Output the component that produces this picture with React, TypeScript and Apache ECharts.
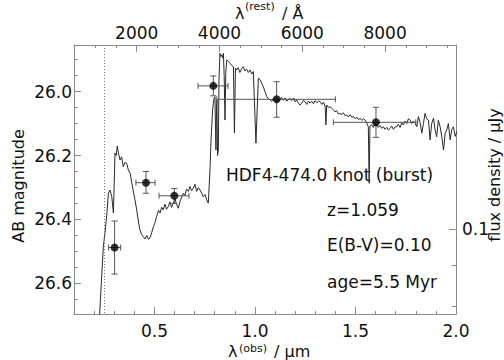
import React, { useEffect, useRef } from "react";
import * as echarts from "echarts";

// ---- data ----
const redshift = 1.059;
const lymanAlphaObs = 0.254; // µm, dotted line

// broad-band photometry (λ obs in µm, AB mag)
const pointLambda = [0.302, 0.458, 0.599, 0.793, 1.108, 1.602];
const pointMag = [26.488, 26.285, 26.326, 25.982, 26.024, 26.096];
const lambdaLo = [0.272, 0.408, 0.523, 0.717, 0.81, 1.39];
const lambdaHi = [0.332, 0.503, 0.672, 0.866, 1.4, 1.8];
const magLo = [26.405, 26.25, 26.303, 25.951, 25.969, 26.049];
const magHi = [26.571, 26.318, 26.35, 26.013, 26.08, 26.143];

// model spectrum
const specLambda = [
  0.222, 0.234, 0.246, 0.254, 0.263, 0.271, 0.279, 0.288, 0.296, 0.304,
  0.31, 0.315, 0.322, 0.329, 0.337, 0.345, 0.353, 0.362, 0.37, 0.379,
  0.394, 0.403, 0.412, 0.42, 0.428, 0.437, 0.445, 0.453, 0.462, 0.47,
  0.478, 0.487, 0.495, 0.503, 0.511, 0.52, 0.528, 0.536, 0.544, 0.552,
  0.56, 0.569, 0.577, 0.585, 0.594, 0.602, 0.61, 0.619, 0.627, 0.636,
  0.644, 0.652, 0.66, 0.669, 0.677, 0.685, 0.694, 0.702, 0.71, 0.719,
  0.727, 0.735, 0.743, 0.752, 0.76, 0.768, 0.772, 0.777, 0.781, 0.785,
  0.789, 0.793, 0.797, 0.801, 0.804, 0.806, 0.809, 0.811, 0.814, 0.818,
  0.821, 0.826, 0.83, 0.835, 0.839, 0.843, 0.847, 0.851, 0.855, 0.86,
  0.868, 0.876, 0.884, 0.893, 0.898, 0.903, 0.909, 0.917, 0.925, 0.934,
  0.942, 0.95, 0.959, 0.967, 0.976, 0.984, 0.992, 1.005, 1.017, 1.025,
  1.034, 1.042, 1.05, 1.059, 1.067, 1.075, 1.084, 1.092, 1.1, 1.108,
  1.117, 1.125, 1.133, 1.142, 1.15, 1.158, 1.167, 1.175, 1.183, 1.192,
  1.2, 1.208, 1.216, 1.224, 1.233, 1.241, 1.249, 1.258, 1.266, 1.274,
  1.283, 1.291, 1.299, 1.308, 1.316, 1.324, 1.333, 1.341, 1.349, 1.353,
  1.357, 1.366, 1.374, 1.382, 1.39, 1.398, 1.407, 1.415, 1.423, 1.432,
  1.44, 1.448, 1.457, 1.465, 1.473, 1.482, 1.49, 1.498, 1.507, 1.515,
  1.523, 1.532, 1.54, 1.548, 1.556, 1.564, 1.568, 1.572, 1.581, 1.589,
  1.597, 1.606, 1.614, 1.622, 1.631, 1.639, 1.647, 1.656, 1.664, 1.672,
  1.68, 1.689, 1.697, 1.705, 1.713, 1.722, 1.73, 1.738, 1.747, 1.755,
  1.763, 1.772, 1.78, 1.788, 1.797, 1.805, 1.813, 1.821, 1.83, 1.838,
  1.846, 1.854, 1.863, 1.871, 1.879, 1.888, 1.896, 1.904, 1.912, 1.921,
  1.929, 1.938, 1.946, 1.954, 1.962, 1.971, 1.979, 1.987, 1.996, 2.004,
];
const specMag = [
  26.76, 26.621, 26.485, 26.442, 26.386, 26.318, 26.308, 26.329, 26.38, 26.192,
  26.2, 26.17, 26.195, 26.214, 26.204, 26.235, 26.222, 26.224, 26.245, 26.255,
  26.308, 26.338, 26.37, 26.405, 26.433, 26.448, 26.454, 26.461, 26.45, 26.462,
  26.458, 26.44, 26.423, 26.41, 26.391, 26.372, 26.38, 26.362, 26.37, 26.352,
  26.368, 26.36, 26.345, 26.362, 26.349, 26.335, 26.352, 26.365, 26.344, 26.33,
  26.318, 26.325, 26.305, 26.312, 26.297, 26.31, 26.302, 26.29, 26.312, 26.3,
  26.308, 26.318, 26.329, 26.322, 26.339, 26.349, 26.3, 26.235, 26.16, 26.11,
  26.06, 26.036, 26.02, 26.016, 26.12, 26.183, 26.05, 26.026, 26.2, 26.183,
  25.964, 25.88, 25.89, 25.885, 25.895, 25.88, 25.95, 26.089, 25.94, 25.901,
  25.905, 25.911, 25.918, 25.922, 26.129, 25.926, 25.932, 25.925, 25.94, 25.928,
  25.922, 25.935, 25.93, 25.94, 25.932, 25.945, 25.937, 26.161, 25.958, 25.962,
  25.974, 25.985, 26.0, 26.016, 26.022, 26.026, 26.03, 26.021, 26.028, 26.022,
  26.03, 26.024, 26.018, 26.027, 26.02, 26.03, 26.024, 26.021, 26.028, 26.02,
  26.032, 26.026, 26.035, 26.042, 26.036, 26.028, 26.031, 26.04, 26.03, 26.036,
  26.03, 26.038, 26.028, 26.035, 26.03, 26.031, 26.04, 26.033, 26.045, 26.104,
  26.042, 26.05, 26.047, 26.052, 26.057, 26.063, 26.06, 26.07, 26.068, 26.072,
  26.066, 26.075, 26.073, 26.079, 26.072, 26.08, 26.078, 26.085, 26.08, 26.088,
  26.083, 26.09, 26.085, 26.089, 26.098, 26.11, 26.287, 26.108, 26.104, 26.112,
  26.1, 26.104, 26.112, 26.106, 26.115, 26.11, 26.118, 26.112, 26.12, 26.115,
  26.108, 26.118, 26.11, 26.11, 26.102, 26.112, 26.098, 26.104, 26.092, 26.1,
  26.085, 26.089, 26.1, 26.092, 26.099, 26.11, 26.078, 26.095, 26.13, 26.1,
  26.068, 26.085, 26.089, 26.151, 26.1, 26.083, 26.12, 26.141, 26.09, 26.11,
  26.14, 26.183, 26.13, 26.12, 26.1, 26.151, 26.118, 26.11, 26.14, 26.125,
];

// axes
const xMin = 0.1;
const xMax = 2.0;
const magMin = 25.854;
const magMax = 26.696;
const obsMajor = [0.5, 1.0, 1.5, 2.0];
const obsMinor = [0.1, 0.2, 0.3, 0.4, 0.6, 0.7, 0.8, 0.9, 1.1, 1.2, 1.3, 1.4, 1.6, 1.7, 1.8, 1.9];
const restMajor = [2000, 4000, 6000, 8000];
const restMinor = [500, 1000, 1500, 2500, 3000, 3500, 4500, 5000, 5500, 6500, 7000, 7500, 8500, 9000, 9500];
const magMajor = [26.0, 26.2, 26.4, 26.6];
const magMinor = [25.9, 25.95, 26.05, 26.1, 26.15, 26.25, 26.3, 26.35, 26.45, 26.5, 26.55, 26.65];
const fluxZeroPoint = 23.93;
const fluxMajor = [0.1];
const fluxMinor = [0.09, 0.08];

const restToObs = (a: number) => (a * (1 + redshift)) / 1e4;
const fluxToMag = (f: number) => fluxZeroPoint - 2.5 * Math.log10(f);

const FONT = "DejaVu Sans";
const AXIS_COLOR = "#8a8a8a";
const FS = 17;

export default function App() {
  const ref = useRef<HTMLDivElement>(null);
  useEffect(() => {
    if (!ref.current) return;
    const chart = echarts.init(ref.current, null, { renderer: "svg" });

    const errData = pointLambda.map((l, i) => [l, pointMag[i], lambdaLo[i], lambdaHi[i], magLo[i], magHi[i]]);
    const spec = specLambda.map((l, i) => [l, specMag[i]]);
    const pts = pointLambda.map((l, i) => [l, pointMag[i]]);

    const hiddenLine = { show: false };
    const tickStyle = { color: AXIS_COLOR, width: 1 };
    const labelStyle = { color: "#111", fontSize: FS, fontFamily: FONT };

    const baseX = { type: "value", min: xMin, max: xMax, splitLine: { show: false } };
    const baseY = { type: "value", min: magMin, max: magMax, inverse: true, splitLine: { show: false } };

    const txt = (text: string, x: number, y: number, size = FS, extra: any = {}) => ({
      type: "text",
      x,
      y,
      ...extra,
      style: { text, fontSize: size, fontFamily: FONT, fill: "#111", verticalAlign: "middle", ...(extra.style || {}) },
    });

    const option: any = {
      animation: false,
      backgroundColor: "#fff",
      grid: { left: 74, right: 48, top: 45, bottom: 46, containLabel: false },
      xAxis: [
        {
          ...baseX,
          position: "bottom",
          axisLine: { show: true, lineStyle: { color: AXIS_COLOR, width: 1 } },
          axisTick: { show: true, inside: true, length: 7, lineStyle: tickStyle, customValues: obsMajor },
          axisLabel: { ...labelStyle, margin: 8, customValues: obsMajor, formatter: (v: number) => v.toFixed(1) },
        },
        {
          ...baseX,
          position: "bottom",
          axisLine: hiddenLine,
          axisTick: { show: true, inside: true, length: 3, lineStyle: tickStyle, customValues: obsMinor },
          axisLabel: { show: false },
        },
        {
          ...baseX,
          position: "top",
          axisLine: { show: true, lineStyle: { color: AXIS_COLOR, width: 1 } },
          axisTick: { show: true, inside: true, length: 7, lineStyle: tickStyle, customValues: restMajor.map(restToObs) },
          axisLabel: {
            ...labelStyle,
            margin: 4,
            customValues: restMajor.map(restToObs),
            formatter: (v: number) => String(Math.round((v * 1e4) / (1 + redshift) / 10) * 10),
          },
        },
        {
          ...baseX,
          position: "top",
          axisLine: hiddenLine,
          axisTick: { show: true, inside: true, length: 3, lineStyle: tickStyle, customValues: restMinor.map(restToObs) },
          axisLabel: { show: false },
        },
      ],
      yAxis: [
        {
          ...baseY,
          position: "left",
          axisLine: { show: true, lineStyle: { color: AXIS_COLOR, width: 1 } },
          axisTick: { show: true, inside: true, length: 7, lineStyle: tickStyle, customValues: magMajor },
          axisLabel: { ...labelStyle, margin: 2, customValues: magMajor, formatter: (v: number) => v.toFixed(1) },
        },
        {
          ...baseY,
          position: "left",
          axisLine: hiddenLine,
          axisTick: { show: true, inside: true, length: 4, lineStyle: tickStyle, customValues: magMinor },
          axisLabel: { show: false },
        },
        {
          ...baseY,
          position: "right",
          axisLine: { show: true, lineStyle: { color: AXIS_COLOR, width: 1 } },
          axisTick: { show: true, inside: true, length: 7, lineStyle: tickStyle, customValues: fluxMajor.map(fluxToMag) },
          axisLabel: {
            ...labelStyle,
            margin: 6,
            customValues: fluxMajor.map(fluxToMag),
            formatter: (v: number) => String(Math.round(Math.pow(10, (fluxZeroPoint - v) / 2.5) * 100) / 100),
          },
        },
        {
          ...baseY,
          position: "right",
          axisLine: hiddenLine,
          axisTick: { show: true, inside: true, length: 4, lineStyle: tickStyle, customValues: fluxMinor.map(fluxToMag) },
          axisLabel: { show: false },
        },
      ],
      series: [
        {
          type: "line",
          data: spec,
          showSymbol: false,
          symbol: "none",
          clip: true,
          lineStyle: { color: "#2a2a2a", width: 1 },
          silent: true,
          markLine: {
            silent: true,
            symbol: "none",
            label: { show: false },
            lineStyle: { color: "#777", width: 1, type: [1, 2] },
            data: [{ xAxis: lymanAlphaObs }],
          },
          z: 2,
        },
        {
          type: "custom",
          data: errData,
          encode: { x: 0, y: 1 },
          clip: false,
          z: 3,
          renderItem: (params: any, api: any) => {
            const x = api.value(0);
            const y = api.value(1);
            const l = api.coord([api.value(2), y]);
            const h = api.coord([api.value(3), y]);
            const lo = api.coord([x, api.value(4)]);
            const hi = api.coord([x, api.value(5)]);
            const cap = 3;
            const style = { stroke: "#555", lineWidth: 1 };
            const mk = (x1: number, y1: number, x2: number, y2: number) => ({
              type: "line",
              shape: { x1, y1, x2, y2 },
              style,
            });
            return {
              type: "group",
              children: [
                mk(l[0], l[1], h[0], h[1]),
                mk(l[0], l[1] - cap, l[0], l[1] + cap),
                mk(h[0], h[1] - cap, h[0], h[1] + cap),
                mk(lo[0], lo[1], hi[0], hi[1]),
                mk(lo[0] - cap, lo[1], lo[0] + cap, lo[1]),
                mk(hi[0] - cap, hi[1], hi[0] + cap, hi[1]),
              ],
            };
          },
        },
        {
          type: "scatter",
          data: pts,
          symbol: "circle",
          symbolSize: 8,
          itemStyle: { color: "#000" },
          z: 4,
        },
      ],
      graphic: [
        txt("HDF4-474.0 knot (burst)", 226, 175),
        txt("z=1.059", 327, 210),
        txt("E(B-V)=0.10", 327, 245),
        txt("age=5.5 Myr", 327, 282),
        // bottom axis name
        txt("λ", 228, 351, 16),
        txt("(obs)", 239, 348, 11),
        txt("/ μm", 274, 351, 16),
        // top axis name
        txt("λ", 235, 13, 16),
        txt("(rest)", 245, 6, 11),
        txt("/ Å", 282, 13, 16),
        // left axis name
        txt("AB magnitude", 18, 186, 16, { rotation: Math.PI / 2, style: { align: "center" } }),
        // right axis name
        txt("flux density / μJy", 494, 175, 16, { rotation: Math.PI / 2, style: { align: "center" } }),
      ],
    };

    chart.setOption(option);
    return () => chart.dispose();
  }, []);

  return <div ref={ref} style={{ width: 504, height: 360, position: "fixed", left: 0, top: 0, background: "#fff" }} />;
}
